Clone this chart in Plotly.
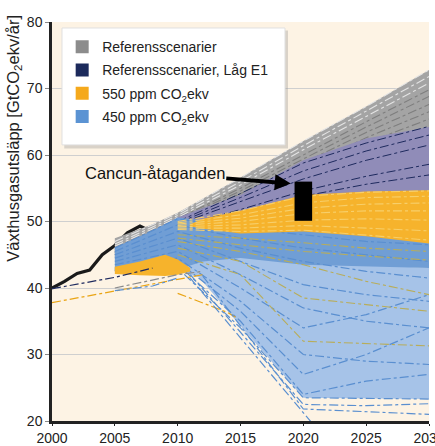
import plotly.graph_objects as go

# ---------------- data ----------------
HIST_YEARS = [2000, 2001, 2002, 2003, 2004, 2005, 2006, 2007, 2008, 2009, 2010]
HIST_VALUES = [40.0, 41.0, 42.2, 42.7, 45.0, 46.4, 48.3, 49.3, 48.4, 47.8, 48.5]

FAN_YEARS = [2005, 2010, 2015, 2020, 2025, 2030]

# envelopes
BAND_YEARS = [2005, 2008, 2010, 2012, 2015, 2020, 2025, 2030]
GREY_UPPER = [47.5, 49.6, 51.3, 53.4, 56.6, 62.1, 67.3, 72.8]
GREY_LOWER = [44.5, 46.5, 48.0, 49.0, 50.0, 51.5, 52.5, 53.5]

PURPLE_YEARS = [2009, 2010, 2012, 2015, 2020, 2025, 2030]
PURPLE_UPPER = [49.5, 50.6, 52.0, 54.0, 59.2, 62.5, 64.2]
PURPLE_LOWER = [48.5, 49.0, 49.5, 50.0, 51.0, 52.5, 54.0]

LIGHTBLUE_YEARS = [2010, 2011.7, 2015, 2020, 2025, 2030]
LIGHTBLUE_UPPER = [46.0, 45.5, 45.0, 44.0, 43.5, 43.0]
LIGHTBLUE_LOWER = [42.5, 41.6, 34.3, 23.5, 23.4, 23.3]

BLUE_UPPER = [46.1, 48.6, 50.6, 50.2, 49.5, 49.0, 48.0, 47.0]
BLUE_LOWER = [42.6, 42.7, 42.8, 44.0, 44.5, 43.5, 43.2, 43.0]

ORANGE_YEARS = [2011, 2012, 2015, 2020, 2025, 2030]
ORANGE_UPPER = [49.6, 50.4, 51.6, 54.0, 54.5, 54.7]
ORANGE_LOWER = [49.3, 48.9, 48.2, 48.5, 47.8, 46.7]

EARLY_ORANGE_YEARS = [2005, 2007, 2009, 2010, 2011]
EARLY_ORANGE_UPPER = [43.2, 44.0, 45.0, 44.3, 43.0]
EARLY_ORANGE_LOWER = [42.1, 41.9, 41.8, 42.0, 42.5]

# scenario lines (values at FAN_YEARS)
GREY_LINES = [
    [47.0, 51.2, 56.6, 62.1, 67.3, 72.8],
    [46.6, 50.9, 56.0, 61.4, 66.6, 71.8],
    [46.3, 50.6, 55.5, 60.8, 65.8, 70.8],
    [46.0, 50.4, 55.0, 60.0, 65.0, 69.8],
    [45.8, 50.2, 54.6, 59.4, 64.2, 68.8],
    [45.5, 50.0, 54.2, 58.8, 63.4, 67.6],
    [45.3, 49.8, 53.8, 58.2, 62.6, 66.5],
    [45.0, 49.6, 53.4, 57.6, 61.8, 65.4],
]
NAVY_LINES = [
    [None, 50.0, 54.2, 58.8, 61.8, 64.3],
    [None, 49.8, 53.6, 57.6, 60.6, 63.0],
    [None, 49.6, 53.0, 56.4, 59.2, 61.5],
    [None, 49.2, 51.8, 54.6, 56.8, 58.6],
    [None, 49.0, 51.3, 53.8, 55.6, 57.0],
]
ORANGE_LINES = [
    [None, 50.0, 51.6, 53.8, 54.4, 54.6],
    [None, 49.8, 51.0, 52.8, 53.6, 53.8],
    [None, 49.6, 50.5, 52.0, 52.6, 52.8],
    [None, 49.4, 50.0, 51.2, 51.6, 51.6],
    [None, 49.2, 49.5, 50.2, 50.4, 50.2],
    [None, 49.0, 49.0, 49.4, 49.0, 48.6],
    [None, 48.8, 48.5, 48.7, 48.0, 47.2],
]
OLIVE_LINES = [
    [None, 48.0, 47.5, 46.8, 46.0, 45.5],
    [None, 47.5, 46.5, 45.5, 44.8, 44.2],
    [None, 47.0, 45.5, 43.5, 41.0, 39.0],
    [None, 46.0, 44.0, 38.5, 37.5, 36.5],
    [None, 45.0, 42.0, 32.0, 31.6, 31.3],
]
BLUE_LINES = [
    [46.0, 50.4, 49.0, 48.0, 47.0, 46.5],
    [45.5, 49.5, 47.5, 46.0, 45.0, 44.0],
    [45.0, 48.5, 46.0, 44.0, 42.5, 41.5],
    [44.5, 47.5, 44.0, 40.5, 39.0, 38.0],
    [44.0, 46.5, 42.0, 37.0, 35.0, 34.0],
    [43.5, 45.5, 40.0, 34.0, 36.0, 39.0],
    [43.0, 44.5, 38.0, 30.0, 29.0, 28.5],
    [42.8, 44.0, 36.5, 27.0, 30.0, 34.0],
    [42.6, 43.5, 35.0, 24.0, 26.0, 27.0],
    [42.6, 43.0, 34.0, 23.5, 23.4, 23.3],
]

# single lines outside the bands: (years, values, category)
EXTRA_LINES = [
    ([2000, 2005, 2010, 2012], [37.8, 39.6, 41.3, 42.0], "550"),
    ([2000, 2005, 2008], [39.9, 41.6, 43.0], "lowE1"),
    ([2005, 2008, 2010], [39.6, 40.3, 41.5], "450"),
    ([2005, 2010, 2012], [40.0, 42.0, 42.5], "ref"),
    ([2010, 2014, 2014.6], [39.2, 36.3, 35.6], "550"),
    ([2011, 2020, 2025, 2030], [42.0, 22.5, 22.3, 22.6], "450"),
    ([2011, 2021], [41.5, 19.0], "450"),
    ([2012, 2020, 2030], [41.8, 21.8, 21.0], "450"),
]

CANCUN_YEAR = 2020
CANCUN_LOW = 50.1
CANCUN_HIGH = 56.0

LEGEND_NAMES = ["Referensscenarier", "Referensscenarier, Låg E1",
                "550 ppm CO<sub>2</sub>ekv", "450 ppm CO<sub>2</sub>ekv"]

X_TICKS = [2000, 2005, 2010, 2015, 2020, 2025, 2030]
Y_TICKS = [20, 30, 40, 50, 60, 70, 80]

# ---------------- styles ----------------
C_GREY_FILL = "#a4a4a4"
C_PURPLE_FILL = "#908cb8"
C_LBLUE_FILL = "#a6c3e8"
C_BLUE_FILL = "#709ed5"
C_ORANGE_FILL = "#f6b32c"
LINE_COL = {"ref": "#8a8a8a", "lowE1": "#1e2a5e", "550": "#e9a414", "450": "#5a8fd0"}
LEG_COL = ["#8c8c8c", "#1c2a5c", "#f5a91c", "#5b93d3"]
FONT = "Liberation Sans, Arial, sans-serif"
CANCUN_HALF_W = 0.7
LEG_BOX = dict(x0=0.0265, x1=0.618, y0=0.692, y1=0.985)  # paper coords of legend frame

fig = go.Figure()


def band(xs, lo, hi, color):
    fig.add_trace(go.Scatter(x=list(xs) + list(xs)[::-1], y=list(hi) + list(lo)[::-1],
                             fill="toself", fillcolor=color, mode="lines",
                             line=dict(width=0), hoverinfo="skip", showlegend=False))


def lines(rows, color, width=1.1, dash="dashdot"):
    for r in rows:
        fig.add_trace(go.Scatter(x=FAN_YEARS, y=r, mode="lines",
                                 line=dict(color=color, width=width, dash=dash),
                                 hoverinfo="skip", showlegend=False))


# historic emissions
fig.add_trace(go.Scatter(x=HIST_YEARS, y=HIST_VALUES, mode="lines",
                         line=dict(color="#1a1a1a", width=3.2), showlegend=False))

band(BAND_YEARS, GREY_LOWER, GREY_UPPER, C_GREY_FILL)
lines(GREY_LINES[:3], "#e4e4e4")
lines(GREY_LINES[3:], "#7e7e7e")
band(PURPLE_YEARS, PURPLE_LOWER, PURPLE_UPPER, C_PURPLE_FILL)
lines(NAVY_LINES, LINE_COL["lowE1"], width=1.0)
band(LIGHTBLUE_YEARS, LIGHTBLUE_LOWER, LIGHTBLUE_UPPER, C_LBLUE_FILL)
band(BAND_YEARS, BLUE_LOWER, BLUE_UPPER, C_BLUE_FILL)
lines(BLUE_LINES, LINE_COL["450"], width=1.2)
lines(OLIVE_LINES, "#b8ad5a", width=1.1)
band(ORANGE_YEARS, ORANGE_LOWER, ORANGE_UPPER, C_ORANGE_FILL)
lines(ORANGE_LINES, "#f7cf6a", width=1.1)
band(EARLY_ORANGE_YEARS, EARLY_ORANGE_LOWER, EARLY_ORANGE_UPPER, C_ORANGE_FILL)

for xs, ys, cat in EXTRA_LINES:
    fig.add_trace(go.Scatter(x=xs, y=ys, mode="lines",
                             line=dict(color=LINE_COL[cat], width=1.2, dash="dashdot"),
                             hoverinfo="skip", showlegend=False))

# Cancun commitments
fig.add_shape(type="rect", xref="x", yref="y", layer="above",
              x0=CANCUN_YEAR - CANCUN_HALF_W, x1=CANCUN_YEAR + CANCUN_HALF_W,
              y0=CANCUN_LOW, y1=CANCUN_HIGH, fillcolor="black", line=dict(width=0))

# legend frame with soft shadow
fig.add_shape(type="rect", xref="paper", yref="paper", layer="above",
              x0=LEG_BOX["x0"] + 0.006, x1=LEG_BOX["x1"] + 0.008,
              y0=LEG_BOX["y0"] - 0.009, y1=LEG_BOX["y1"] - 0.006,
              fillcolor="rgba(150,150,150,0.35)", line=dict(width=0))
fig.add_shape(type="rect", xref="paper", yref="paper", layer="above",
              fillcolor="white", line=dict(color="#e0e0e0", width=1), **LEG_BOX)

# legend entries
for i, (name, col) in enumerate(zip(LEGEND_NAMES, LEG_COL)):
    fig.add_trace(go.Scatter(x=[None], y=[None], mode="markers", name=name,
                             legendgroup=f"g{i}",
                             marker=dict(symbol="square", size=13, color=col)))

fig.add_annotation(x=CANCUN_YEAR - CANCUN_HALF_W - 0.3, y=CANCUN_HIGH - 0.3,
                   xref="x", yref="y", text="Cancun-åtaganden",
                   showarrow=True, arrowhead=2, arrowsize=0.8, arrowwidth=4,
                   arrowcolor="black", ax=-136, ay=-11,
                   font=dict(size=16.5, color="#111", family=FONT))

fig.add_annotation(xref="paper", yref="paper", x=-0.103, y=0.708,
                   text="Växthusgasutsläpp [GtCO<sub>2</sub>ekv/år]", textangle=-90,
                   showarrow=False, xanchor="center", yanchor="middle",
                   font=dict(size=16.5, color="#222", family=FONT))

fig.update_layout(
    width=435, height=446,
    margin=dict(l=52, r=6, t=22, b=25),
    paper_bgcolor="white", plot_bgcolor="#fdf3e4",
    font=dict(family=FONT, size=14, color="#222"),
    legend=dict(x=0.027, y=0.977, xanchor="left", yanchor="top",
                bgcolor="rgba(0,0,0,0)", borderwidth=0,
                font=dict(size=14, color="#222", family=FONT),
                tracegroupgap=2),
    xaxis=dict(range=[2000, 2030], tickvals=X_TICKS, showgrid=False,
               showline=True, linecolor="#222", linewidth=2.5, ticks="outside",
               ticklen=2, tickcolor="#222", zeroline=False, automargin=False,
               ticklabeloverflow="allow", ticklabelstandoff=0),
    yaxis=dict(range=[20, 80], tickvals=Y_TICKS, showgrid=True, gridcolor="#cfcfcf",
               gridwidth=1, showline=True, linecolor="#222", linewidth=2.5,
               ticks="outside", ticklen=4, tickcolor="#888", zeroline=False,
               automargin=False),
)

fig.write_html("out.html")
